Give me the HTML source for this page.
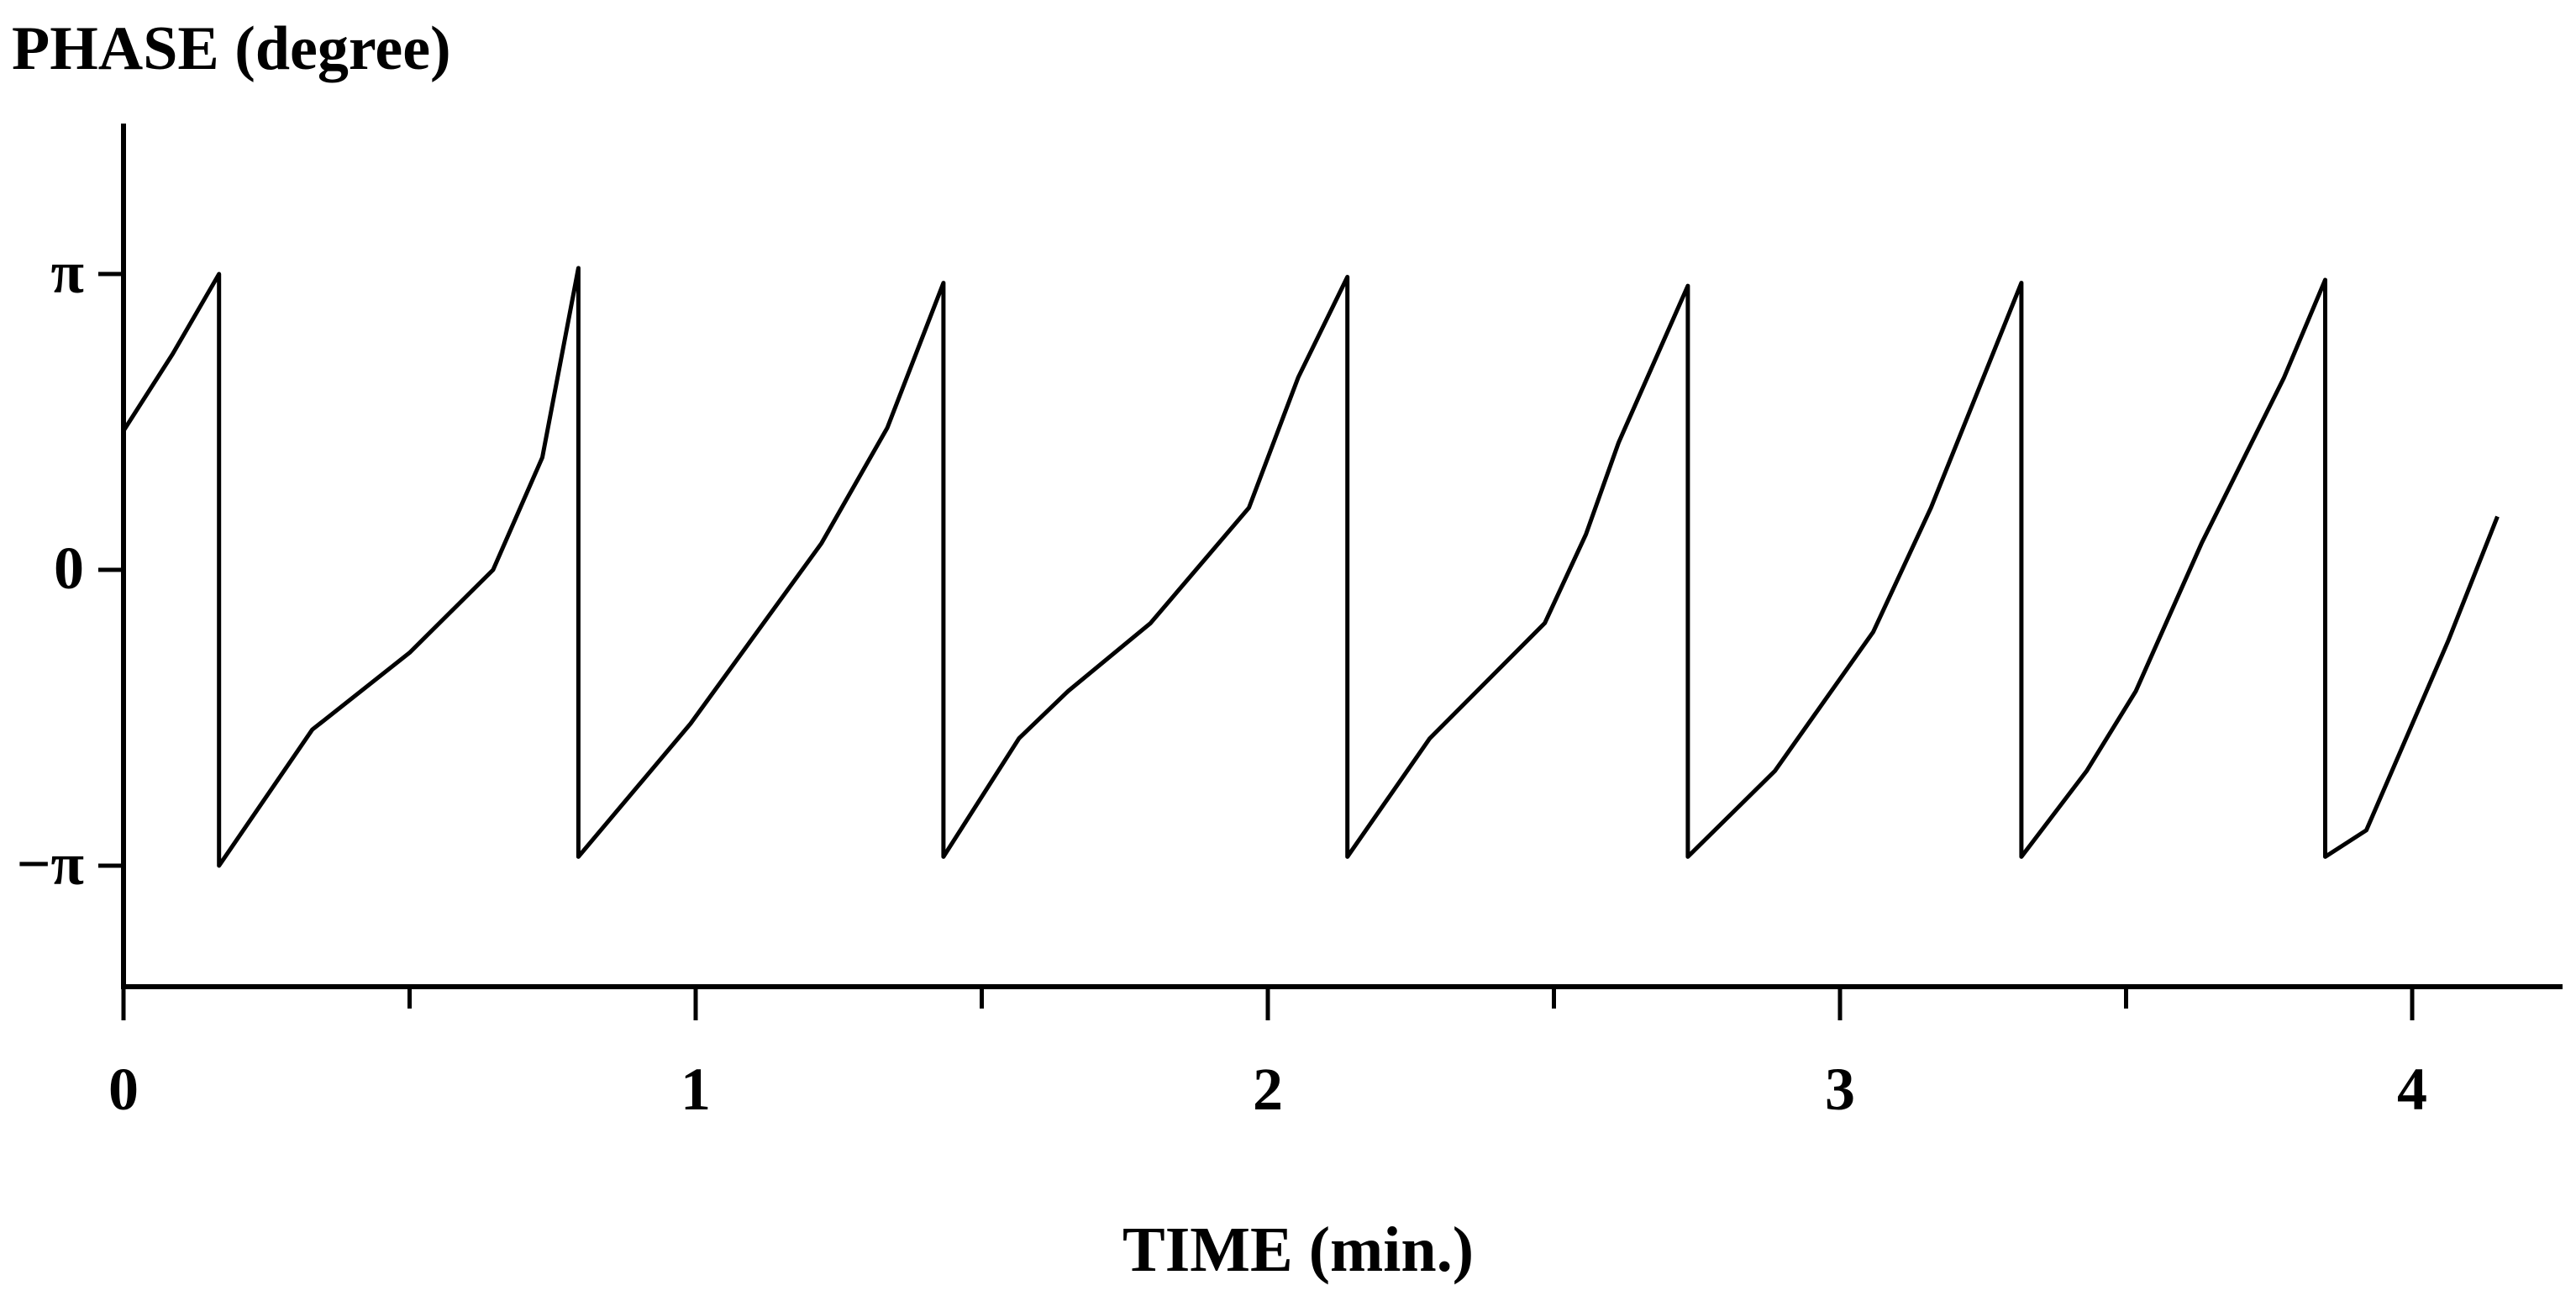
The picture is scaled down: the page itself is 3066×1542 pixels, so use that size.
<!DOCTYPE html>
<html><head><meta charset="utf-8"><style>
html,body{margin:0;padding:0;background:#fff;}
svg{display:block;}
text{font-family:"Liberation Serif",serif;font-weight:bold;fill:#000;}
</style></head><body>
<svg width="3066" height="1542" viewBox="0 0 3066 1542">
<g id="axes"></g>
<g id="plot"></g>
<text x="14" y="82" font-size="74">PHASE (degree)</text>
<text x="1545" y="1512" font-size="76" text-anchor="middle">TIME (min.)</text>
</svg>
<script>
const times = [0,0.086,0.167,0.167,0.33,0.5,0.646,0.732,0.795,0.795,0.991,1.22,1.335,1.433,1.433,1.565,1.651,1.795,1.967,2.053,2.139,2.139,2.283,2.484,2.556,2.613,2.734,2.734,2.886,3.058,3.159,3.317,3.317,3.431,3.517,3.632,3.776,3.848,3.848,3.92,4.063,4.149];
const phases = [0.47,0.73,1.0,-1.0,-0.54,-0.28,0.0,0.38,1.02,-0.97,-0.52,0.09,0.48,0.97,-0.97,-0.57,-0.41,-0.18,0.21,0.65,0.99,-0.97,-0.57,-0.18,0.12,0.43,0.96,-0.97,-0.68,-0.21,0.21,0.97,-0.97,-0.68,-0.41,0.09,0.65,0.98,-0.97,-0.88,-0.24,0.18];
const xTicks = [0,1,2,3,4];
const xMinorTicks = [0.5,1.5,2.5,3.5];
const yTicks = [1,0,-1];
const yTickLabels = ["π","0","−π"];

const X0=147, XS=681, Y0=678, YS=352;
const xs = t => X0 + t*XS;
const ys = p => Y0 - p*YS;
const NS="http://www.w3.org/2000/svg";
const axes=document.getElementById('axes'), plot=document.getElementById('plot');
function mk(tag, attrs, parent){const e=document.createElementNS(NS,tag);for(const k in attrs)e.setAttribute(k,attrs[k]);parent.appendChild(e);return e;}

let e;
e=mk('line',{x1:X0,y1:147,x2:X0,y2:1176,stroke:'#000','stroke-width':6},axes);


e=mk('line',{x1:X0-3,y1:1174,x2:3050,y2:1174,stroke:'#000','stroke-width':6},axes);



xTicks.forEach(t=>{
  const l=mk('line',{x1:xs(t),y1:1174,x2:xs(t),y2:1214,stroke:'#000','stroke-width':5},axes);
  
  
  const tx=mk('text',{x:xs(t),y:1320,'font-size':72,'text-anchor':'middle'},axes);
  tx.textContent=String(t);
  
  
});
xMinorTicks.forEach(t=>{
  const l=mk('line',{x1:xs(t),y1:1174,x2:xs(t),y2:1200,stroke:'#000','stroke-width':5},axes);
  
  
});
yTicks.forEach((p,i)=>{
  const l=mk('line',{x1:X0-30,y1:ys(p),x2:X0,y2:ys(p),stroke:'#000','stroke-width':5},axes);
  
  
  const tx=mk('text',{x:100,y:ys(p)+22,'font-size':72,'text-anchor':'end'},axes);
  tx.textContent=yTickLabels[i];
  
  
});

const pts=times.map((t,i)=>xs(t).toFixed(1)+','+ys(phases[i]).toFixed(1)).join(' ');
const pl=mk('polyline',{points:pts,fill:'none',stroke:'#000','stroke-width':5,'stroke-linejoin':'round'},plot);


</script>
</body></html>
